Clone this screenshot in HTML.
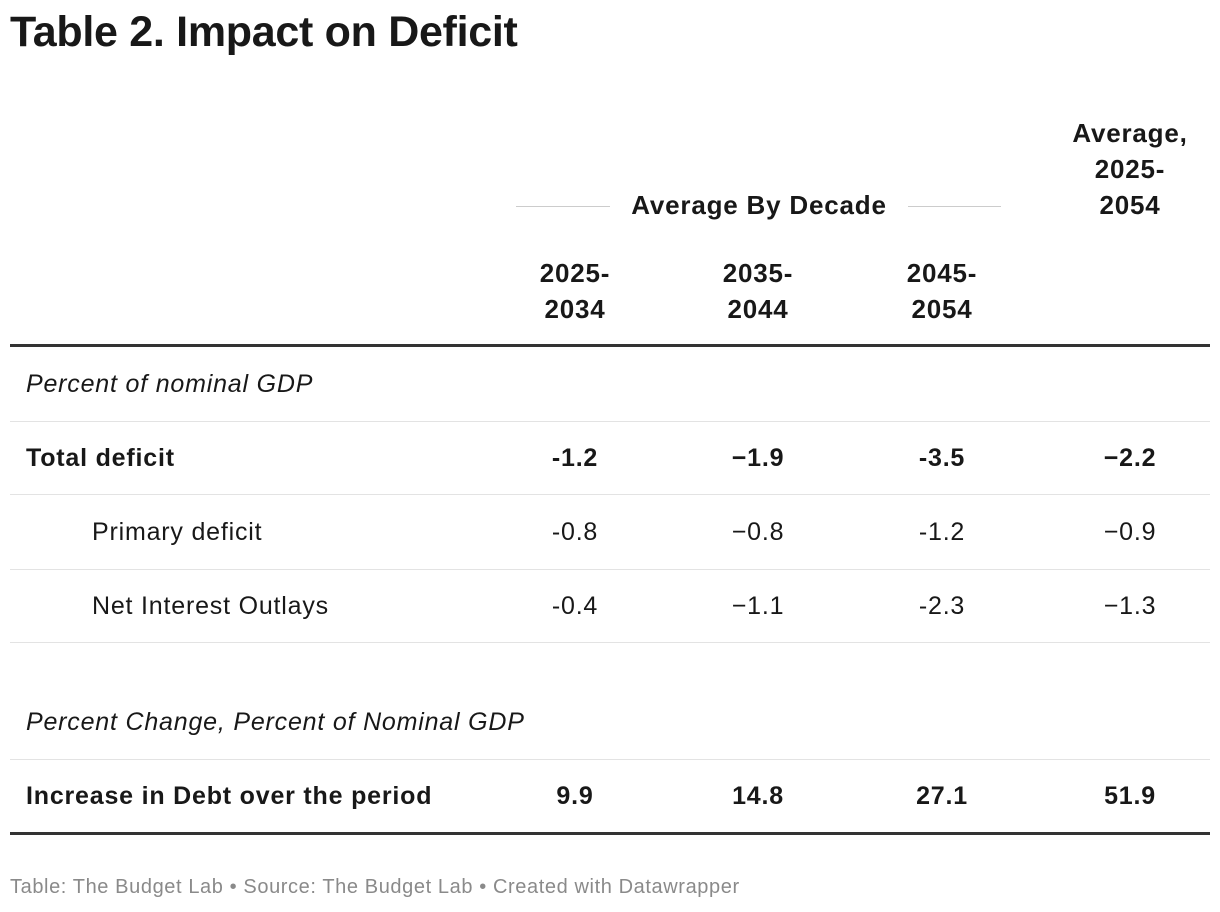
<!DOCTYPE html>
<html><head><meta charset="utf-8"><style>
body{margin:0;width:1220px;height:912px;background:#fff;font-family:"Liberation Sans",Arial,sans-serif;color:#181818;position:relative;overflow:hidden}
.a{position:absolute;white-space:nowrap}
.c{transform:translateX(-50%);text-align:center}
.b{font-weight:bold}
.t{font-size:25px;letter-spacing:0.8px}
.h{font-size:26px;font-weight:bold;line-height:36px;letter-spacing:0.8px}
.line{position:absolute;height:1px;background:#e3e3e3;left:10px;width:1200px}
.thick{position:absolute;height:3px;background:#333;left:10px;width:1200px}
.i{font-style:italic}
</style></head><body>
<div class="a b" style="left:10px;top:8px;font-size:43px;letter-spacing:-0.3px">Table 2. Impact on Deficit</div>

<div class="a c h" style="left:1130px;top:115px">Average,<br>2025-<br>2054</div>
<div class="a" style="left:516px;top:206px;width:94px;height:1px;background:#ccc"></div>
<div class="a" style="left:908px;top:206px;width:93px;height:1px;background:#ccc"></div>
<div class="a c h" style="left:759px;top:187px">Average By Decade</div>
<div class="a c h" style="left:575px;top:255px">2025-<br>2034</div>
<div class="a c h" style="left:758px;top:255px">2035-<br>2044</div>
<div class="a c h" style="left:942px;top:255px">2045-<br>2054</div>
<div class="thick" style="top:344px"></div>

<div class="a t i" style="left:26px;top:370px">Percent of nominal GDP</div>
<div class="line" style="top:421px"></div>

<div class="a t b" style="left:26px;top:444px">Total deficit</div>
<div class="a t b c" style="left:575px;top:444px">-1.2</div>
<div class="a t b c" style="left:758px;top:444px">−1.9</div>
<div class="a t b c" style="left:942px;top:444px">-3.5</div>
<div class="a t b c" style="left:1130px;top:444px">−2.2</div>
<div class="line" style="top:494px"></div>

<div class="a t" style="left:92px;top:518px">Primary deficit</div>
<div class="a t c" style="left:575px;top:518px">-0.8</div>
<div class="a t c" style="left:758px;top:518px">−0.8</div>
<div class="a t c" style="left:942px;top:518px">-1.2</div>
<div class="a t c" style="left:1130px;top:518px">−0.9</div>
<div class="line" style="top:569px"></div>

<div class="a t" style="left:92px;top:592px">Net Interest Outlays</div>
<div class="a t c" style="left:575px;top:592px">-0.4</div>
<div class="a t c" style="left:758px;top:592px">−1.1</div>
<div class="a t c" style="left:942px;top:592px">-2.3</div>
<div class="a t c" style="left:1130px;top:592px">−1.3</div>
<div class="line" style="top:642px"></div>

<div class="a t i" style="left:26px;top:708px">Percent Change, Percent of Nominal GDP</div>
<div class="line" style="top:759px"></div>

<div class="a t b" style="left:26px;top:782px">Increase in Debt over the period</div>
<div class="a t b c" style="left:575px;top:782px">9.9</div>
<div class="a t b c" style="left:758px;top:782px">14.8</div>
<div class="a t b c" style="left:942px;top:782px">27.1</div>
<div class="a t b c" style="left:1130px;top:782px">51.9</div>
<div class="thick" style="top:832px"></div>

<div class="a" style="left:10px;top:876px;font-size:20px;letter-spacing:0.6px;color:#8a8a8a">Table: The Budget Lab • Source: The Budget Lab • Created with Datawrapper</div>
</body></html>
